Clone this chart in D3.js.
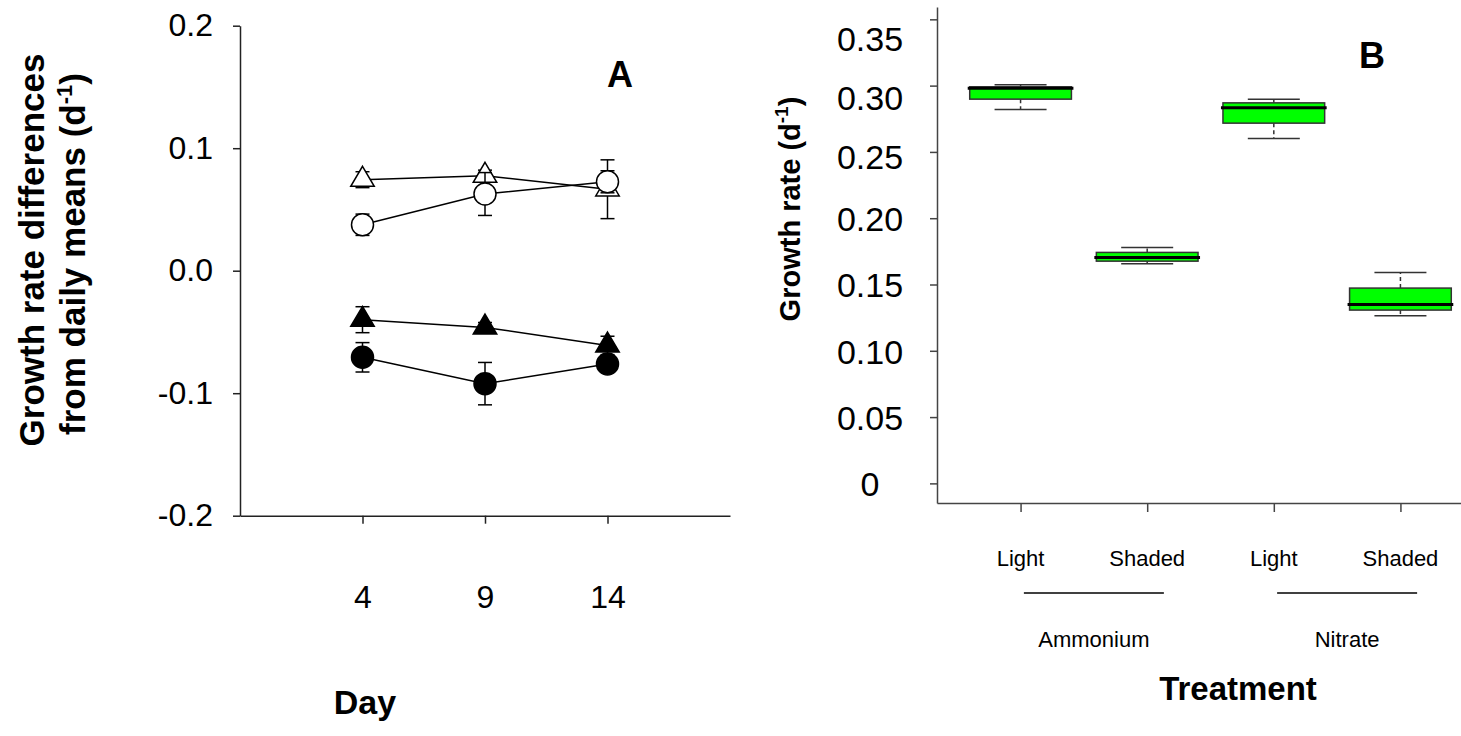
<!DOCTYPE html>
<html>
<head>
<meta charset="utf-8">
<script src="https://cdn.jsdelivr.net/npm/d3@7"></script>
<style>
  html, body { margin: 0; padding: 0; background: #fff; }
  svg { display: block; font-family: "Liberation Sans", Arial, Helvetica, sans-serif; }
</style>
</head>
<body>
<svg id="fig" width="1461" height="736"></svg>
<script>
// ---- Panel A: growth rate differences from daily means, by day ----
const days = [4, 9, 14];
const ammoniumLight      = [0.0743, 0.0776, 0.0665];
const ammoniumLightErr   = [0.0065, 0.0045, 0.024];
const nitrateLight       = [0.0375, 0.0626, 0.0726];
const nitrateLightErr    = [0.0087, 0.0175, 0.009];
const ammoniumShaded     = [-0.040, -0.0463, -0.061];
const ammoniumShadedErr  = [0.0106, 0.004, 0.0075];
const nitrateShaded      = [-0.0707, -0.0922, -0.0762];
const nitrateShadedErr   = [0.012, 0.0173, 0.004];
const yTicksA = [-0.2, -0.1, 0.0, 0.1, 0.2];

// ---- Panel B: growth rate by treatment (box plots) ----
const treatments   = ["Ammonium Light", "Ammonium Shaded", "Nitrate Light", "Nitrate Shaded"];
const lightLabels  = ["Light", "Shaded", "Light", "Shaded"];
const nutrients    = ["Ammonium", "Nitrate"];
const boxMin    = [0.2820, 0.1656, 0.2602, 0.1264];
const boxQ1     = [0.2898, 0.1676, 0.2717, 0.1307];
const boxMedian = [0.2981, 0.1704, 0.2833, 0.1350];
const boxQ3     = [0.2991, 0.1742, 0.2870, 0.1473];
const boxMax    = [0.3007, 0.1780, 0.2898, 0.1591];
const yTicksB = [0, 0.05, 0.10, 0.15, 0.20, 0.25, 0.30, 0.35];

const svg = d3.select("#fig");
const axisColor = "#222";
const fmtA = d => d3.format(".1f")(d).replace("\u2212", "-");

// ================= Panel A =================
const xA = d3.scaleLinear().domain([-1, 19]).range([240, 730]);
const yA = d3.scaleLinear().domain([-0.2, 0.2]).range([515.7, 25.7]);

const gA = svg.append("g");

const axA_x = gA.append("g").attr("transform", `translate(0,${yA(-0.2)})`)
  .call(d3.axisBottom(xA).tickValues(days).tickSize(8).tickSizeOuter(0).tickPadding(62));
const axA_y = gA.append("g").attr("transform", `translate(${xA(-1)},0)`)
  .call(d3.axisLeft(yA).tickValues(yTicksA).tickSize(7).tickSizeOuter(0).tickPadding(20)
        .tickFormat(fmtA));
[axA_x, axA_y].forEach(ax => {
  ax.selectAll("path, line").attr("stroke", axisColor).attr("stroke-width", 1.5);
  ax.selectAll("text").attr("font-size", 32).attr("fill", "#000")
    .attr("font-family", "'Liberation Sans', Arial, sans-serif");
});

const seriesA = [
  { name: "Ammonium light",  vals: ammoniumLight,  err: ammoniumLightErr,  shape: "tri",    fill: "#fff" },
  { name: "Ammonium shaded", vals: ammoniumShaded, err: ammoniumShadedErr, shape: "tri",    fill: "#000" },
  { name: "Nitrate light",   vals: nitrateLight,   err: nitrateLightErr,   shape: "circle", fill: "#fff" },
  { name: "Nitrate shaded",  vals: nitrateShaded,  err: nitrateShadedErr,  shape: "circle", fill: "#000" }
];

const lineGen = d3.line().x((d, i) => xA(days[i])).y(d => yA(d));
const capW = 7;

seriesA.forEach(s => {
  const g = gA.append("g");
  g.append("path").attr("d", lineGen(s.vals))
    .attr("fill", "none").attr("stroke", "#000").attr("stroke-width", 1.5);
  s.vals.forEach((v, i) => {
    const x = xA(days[i]), y0 = yA(v - s.err[i]), y1 = yA(v + s.err[i]);
    g.append("line").attr("x1", x).attr("x2", x).attr("y1", y0).attr("y2", y1)
      .attr("stroke", "#000").attr("stroke-width", 1.5);
    [y0, y1].forEach(yy => g.append("line")
      .attr("x1", x - capW).attr("x2", x + capW).attr("y1", yy).attr("y2", yy)
      .attr("stroke", "#000").attr("stroke-width", 1.5));
  });
  s.vals.forEach((v, i) => {
    const x = xA(days[i]), y = yA(v);
    if (s.shape === "circle") {
      g.append("circle").attr("cx", x).attr("cy", y).attr("r", 11)
        .attr("fill", s.fill).attr("stroke", "#000").attr("stroke-width", 1.5);
    } else {
      const h = 20, w = 23.5;
      const pts = [[x, y - 2 * h / 3], [x + w / 2, y + h / 3], [x - w / 2, y + h / 3]];
      g.append("polygon").attr("points", pts.map(p => p.join(",")).join(" "))
        .attr("fill", s.fill).attr("stroke", "#000").attr("stroke-width", 1.5)
        .attr("stroke-linejoin", "miter");
    }
  });
});

gA.append("text").attr("x", 620).attr("y", 86.5).attr("text-anchor", "middle")
  .attr("font-size", 36).attr("font-weight", "bold").text("A");

// Axis titles, panel A
const titleA = gA.append("text").attr("transform", "rotate(-90)")
  .attr("font-size", 35).attr("font-weight", "bold").attr("text-anchor", "middle");
titleA.append("tspan").attr("x", -250).attr("y", 44).text("Growth rate differences");
const tl2 = titleA.append("tspan").attr("x", -254).attr("y", 85);
tl2.append("tspan").text("from daily means (d");
tl2.append("tspan").attr("font-size", 22).attr("dy", -13).text("-1");
tl2.append("tspan").attr("dy", 13).text(")");

gA.append("text").attr("x", 365).attr("y", 714).attr("text-anchor", "middle")
  .attr("font-size", 34).attr("font-weight", "bold").text("Day");

// ================= Panel B =================
const xB = d3.scalePoint().domain(treatments).range([937, 1484]).padding(0.66);
const yB = d3.scaleLinear().domain([-0.0148, 0.3593]).range([503, 7]);

const gB = svg.append("g");
const axB_x = gB.append("g").attr("transform", `translate(0,${yB.range()[0]})`)
  .call(d3.axisBottom(xB).tickSize(9).tickSizeOuter(0).tickFormat(""));
const axB_y = gB.append("g").attr("transform", `translate(${xB.range()[0]},0)`)
  .call(d3.axisLeft(yB).tickValues(yTicksB).tickSize(7).tickSizeOuter(0)
        .tickFormat(d => d === 0 ? "0" : d3.format(".2f")(d)));
[axB_x, axB_y].forEach(ax => {
  ax.selectAll("path, line").attr("stroke", "#444").attr("stroke-width", 1.5);
});
// upper tick labels sit a little below their ticks
const labelDrop = d => d >= 0.345 ? 20 : d >= 0.295 ? 13 : d >= 0.245 ? 5 : 1;
axB_y.selectAll("text").attr("font-size", 34).attr("fill", "#000")
  .attr("font-family", "'Liberation Sans', Arial, sans-serif")
  .attr("text-anchor", "middle").attr("x", -67)
  .attr("dy", "0.33em")
  .attr("transform", d => `translate(0,${labelDrop(d)})`);

const boxW = 101.7, capB = 26;
treatments.forEach((t, i) => {
  const cx = xB(t);
  const g = gB.append("g");
  // whiskers (dashed) and caps
  [[boxQ3[i], boxMax[i]], [boxQ1[i], boxMin[i]]].forEach(([a, b]) => {
    g.append("line").attr("x1", cx).attr("x2", cx).attr("y1", yB(a)).attr("y2", yB(b))
      .attr("stroke", "#333").attr("stroke-width", 1.5).attr("stroke-dasharray", "4,3");
    g.append("line").attr("x1", cx - capB).attr("x2", cx + capB).attr("y1", yB(b)).attr("y2", yB(b))
      .attr("stroke", "#333").attr("stroke-width", 1.5);
  });
  g.append("rect").attr("x", cx - boxW / 2).attr("width", boxW)
    .attr("y", yB(boxQ3[i])).attr("height", yB(boxQ1[i]) - yB(boxQ3[i]))
    .attr("fill", "#00ff00").attr("stroke", "#333").attr("stroke-width", 1.5);
  g.append("line").attr("x1", cx - boxW / 2 - 2).attr("x2", cx + boxW / 2 + 2)
    .attr("y1", yB(boxMedian[i])).attr("y2", yB(boxMedian[i]))
    .attr("stroke", "#000").attr("stroke-width", 3);
});

gB.append("text").attr("x", 1372).attr("y", 68).attr("text-anchor", "middle")
  .attr("font-size", 36).attr("font-weight", "bold").text("B");

// Treatment labels under the axis
treatments.forEach((t, i) => {
  gB.append("text").attr("x", xB(t)).attr("y", 566).attr("text-anchor", "middle")
    .attr("font-size", 22).text(lightLabels[i]);
});
nutrients.forEach((n, k) => {
  const a = xB(treatments[2 * k]), b = xB(treatments[2 * k + 1]);
  const mid = (a + b) / 2 + 10;
  gB.append("line").attr("x1", mid - 70).attr("x2", mid + 70).attr("y1", 593).attr("y2", 593)
    .attr("stroke", "#000").attr("stroke-width", 1.5);
  gB.append("text").attr("x", mid).attr("y", 647).attr("text-anchor", "middle")
    .attr("font-size", 22).text(n);
});

const titleB = gB.append("text").attr("transform", "rotate(-90)")
  .attr("x", -209).attr("y", 800).attr("text-anchor", "middle")
  .attr("font-size", 29).attr("font-weight", "bold");
titleB.append("tspan").text("Growth rate (d");
titleB.append("tspan").attr("font-size", 19).attr("dy", -12).text("-1");
titleB.append("tspan").attr("dy", 12).text(")");

gB.append("text").attr("x", 1238).attr("y", 700).attr("text-anchor", "middle")
  .attr("font-size", 33).attr("font-weight", "bold").text("Treatment");
</script>
</body>
</html>
